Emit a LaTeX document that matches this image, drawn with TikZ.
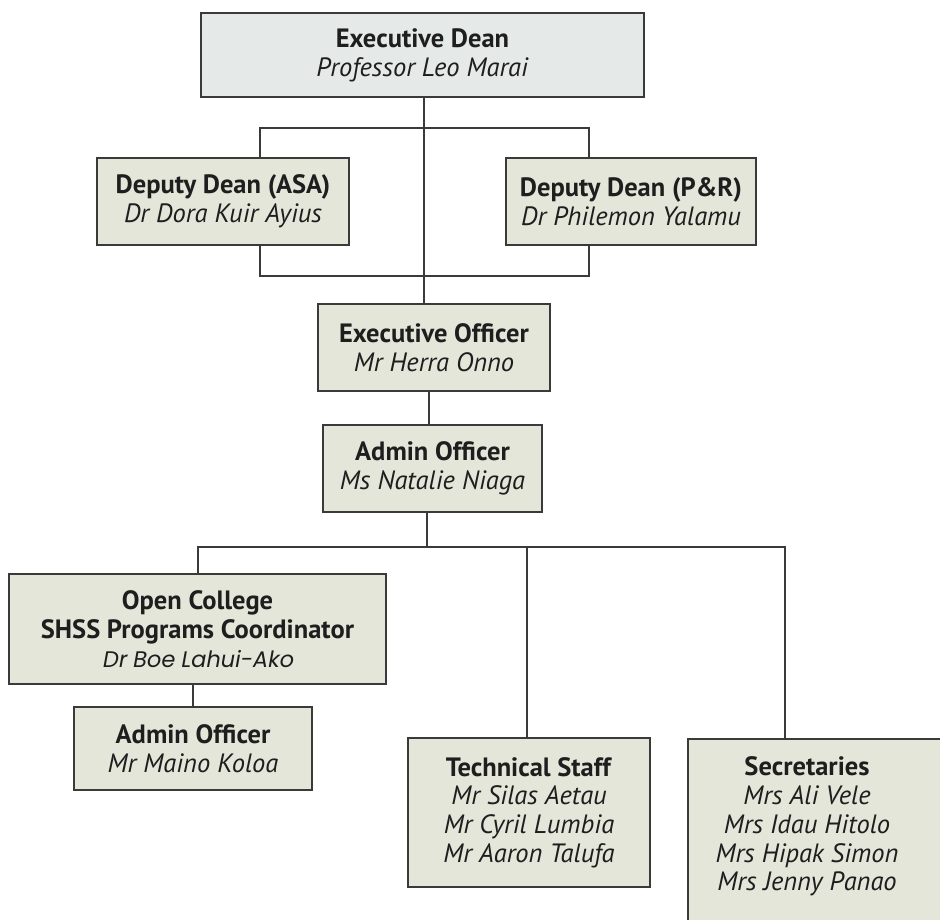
\documentclass[tikz,border=0pt]{standalone}
\usepackage{fontspec}
\setmainfont{PT Sans}
\newfontfamily\gothic[FakeSlant=0.18]{Poppins}
\definecolor{boxfill}{HTML}{E5E6DA}
\definecolor{topfill}{HTML}{E5EAE8}
\definecolor{edge}{HTML}{3A3A3A}
\definecolor{ink}{HTML}{1E1E1E}
\begin{document}
\begin{tikzpicture}[x=1pt,y=-1pt,
  orgbox/.style={draw=edge, line width=2.4pt, fill=boxfill, rectangle, inner sep=0pt,
    align=center, text=ink, font=\fontsize{26.5}{28.8}\selectfont},
  link/.style={draw=edge, line width=2pt},
]
\useasboundingbox (0,0) rectangle (940,919);
\fill[white] (0,0) rectangle (940,919);

% coordinates for connectors
\coordinate (spine) at (424,0);
\coordinate (lb) at (260,128);
\coordinate (rb) at (589,128);
\coordinate (lb2) at (260,276);
\coordinate (rb2) at (589,276);
\coordinate (c2) at (429,0);
\coordinate (c3) at (427,0);
\coordinate (busL) at (198,547);
\coordinate (busR) at (785,547);
\coordinate (busM) at (527,547);
\coordinate (c4) at (193,0);

% boxes
\node[orgbox, fill=topfill, minimum width=443pt, minimum height=84pt] (ed) at (422.5,55)
  {\textbf{Executive Dean}\\\textit{Professor Leo Marai}};
\node[orgbox, minimum width=252pt, minimum height=87pt] (asa) at (223,201.5)
  {\textbf{Deputy Dean (ASA)}\\\textit{Dr Dora Kuir Ayius}};
\node[orgbox, minimum width=250pt, minimum height=87pt] (pr) at (631,201.5)
  {\textbf{Deputy Dean (P\&R)}\\\textit{Dr Philemon Yalamu}};
\node[orgbox, minimum width=232pt, minimum height=87pt] (eo) at (434,347.5)
  {\textbf{Executive Officer}\\\textit{Mr Herra Onno}};
\node[orgbox, minimum width=219pt, minimum height=87pt] (ao) at (432.5,468.5)
  {\textbf{Admin Officer}\\\textit{Ms Natalie Niaga}};
\node[orgbox, minimum width=377pt, minimum height=110pt] (oc) at (197.5,629)
  {\textbf{Open College}\\\textbf{SHSS Programs Coordinator}\\{\gothic\fontsize{22.5}{28.8}\selectfont Dr Boe Lahui-Ako}};
\node[orgbox, minimum width=238pt, minimum height=83pt] (ao2) at (193,748.5)
  {\textbf{Admin Officer}\\\textit{Mr Maino Koloa}};
\node[orgbox, minimum width=242pt, minimum height=149pt] (ts) at (529,812.5)
  {\textbf{Technical Staff}\\\textit{Mr Silas Aetau}\\\textit{Mr Cyril Lumbia}\\\textit{Mr Aaron Talufa}};
\node[orgbox, minimum width=270pt, minimum height=210pt, anchor=north west] (sec) at (687,738) {};
\node[align=center, text=ink, font=\fontsize{26.5}{28.8}\selectfont, inner sep=0pt] (sectxt) at (807,826.5)
  {\textbf{Secretaries}\\\textit{Mrs Ali Vele}\\\textit{Mrs Idau Hitolo}\\\textit{Mrs Hipak Simon}\\\textit{Mrs Jenny Panao}};

% connectors
\draw[link] (ed.south -| spine) -- (eo.north -| spine);
\draw[link] (asa.north -| lb) -- (lb) -- (rb) -- (pr.north -| rb);
\draw[link] (asa.south -| lb2) -- (lb2) -- (rb2) -- (pr.south -| rb2);
\draw[link] (eo.south -| c2) -- (ao.north -| c2);
\draw[link] (ao.south -| c3) -- (busL -| c3);
\draw[link] (oc.north -| busL) -- (busL) -- (busR) -- (sec.north -| busR);
\draw[link] (busM) -- (ts.north -| busM);
\draw[link] (oc.south -| c4) -- (ao2.north -| c4);
\end{tikzpicture}
\end{document}
